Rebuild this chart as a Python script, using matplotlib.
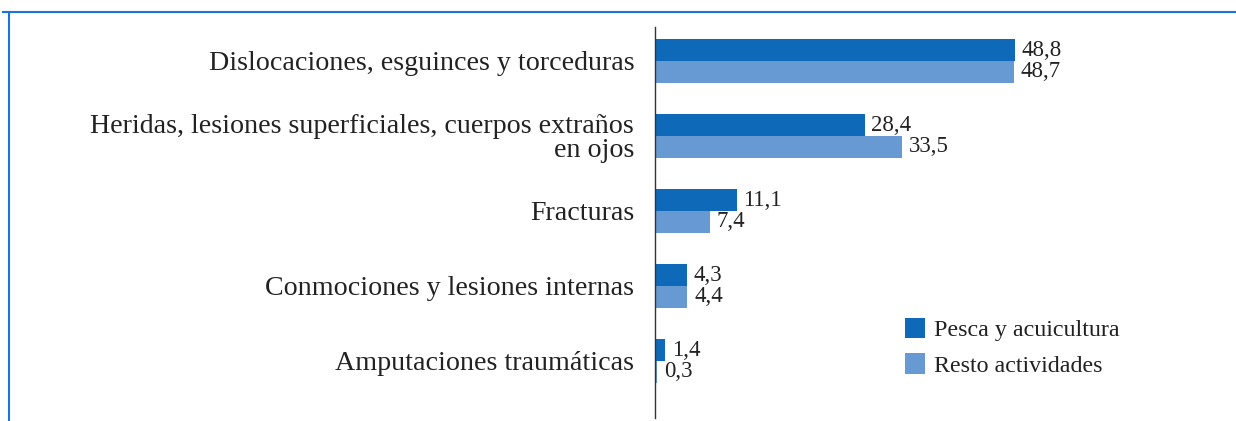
import matplotlib
matplotlib.use("Agg")
import matplotlib.pyplot as plt
from matplotlib.lines import Line2D
import numpy as np

categories = ["Dislocaciones, esguinces y torceduras",
              "Heridas, lesiones superficiales, cuerpos extraños\nen ojos",
              "Fracturas",
              "Conmociones y lesiones internas",
              "Amputaciones traumáticas"]
pesca = [48.8, 28.4, 11.1, 4.3, 1.4]
resto = [48.7, 33.5, 7.4, 4.4, 0.3]
series_names = ["Pesca y acuicultura", "Resto actividades"]

W, H = 1236, 421
fig = plt.figure(figsize=(W/100, H/100), dpi=100)
plt.rcParams['font.family'] = ['Liberation Serif', 'DejaVu Serif']

ax_left, ax_top, ax_bottom = 655, 27, 418
scale = 7.377  # px per unit
ax_right = W - 10
xmax = (ax_right - ax_left) / scale
ax = fig.add_axes([ax_left/W, 1 - ax_bottom/H, (ax_right-ax_left)/W, (ax_bottom-ax_top)/H])

y = np.arange(len(categories))
h = 0.29
c1, c2 = "#0e6ab8", "#6799d2"
ax.barh(y - h/2, pesca, height=h, color=c1, label=series_names[0])
ax.barh(y + h/2, resto, height=h, color=c2, label=series_names[1])
ax.set_ylim(4.76, -0.453)
ax.set_xlim(0, xmax)

fs_cat, fs_val, fs_leg = 20.2, 16.5, 17.3
tc = '#222222'
for i in range(len(categories)):
    ax.text(pesca[i] + 0.9, y[i] - h/2, f"{pesca[i]:.1f}".replace('.', ','), va='center', ha='left', fontsize=fs_val, color=tc)
    ax.text(resto[i] + 0.9, y[i] + h/2, f"{resto[i]:.1f}".replace('.', ','), va='center', ha='left', fontsize=fs_val, color=tc)

ax.set_yticks(y)
ax.set_yticklabels(categories, fontsize=fs_cat, color=tc, linespacing=0.95)
ax.tick_params(axis='y', length=0, pad=15)
ax.set_xticks([])
for s in ['top', 'right', 'bottom']:
    ax.spines[s].set_visible(False)
ax.spines['left'].set_color('#333333')
ax.spines['left'].set_linewidth(1.0)

leg = ax.legend(loc='lower left', bbox_to_anchor=((905-ax_left)/(ax_right-ax_left), (418-377)/(ax_bottom-ax_top)),
                frameon=False, fontsize=fs_leg, handlelength=0.85, handleheight=0.95, handletextpad=0.35,
                labelspacing=0.5, borderpad=0, borderaxespad=0)
for t in leg.get_texts():
    t.set_color(tc)

# frame lines
fc = "#1a73d9"
fig.add_artist(Line2D([3/W, 1], [1 - 12/H, 1 - 12/H], transform=fig.transFigure, color=fc, lw=1.5))
fig.add_artist(Line2D([9/W, 9/W], [1 - 12/H, 0], transform=fig.transFigure, color=fc, lw=1.5))

fig.savefig("out.png", dpi=100, facecolor='white')
